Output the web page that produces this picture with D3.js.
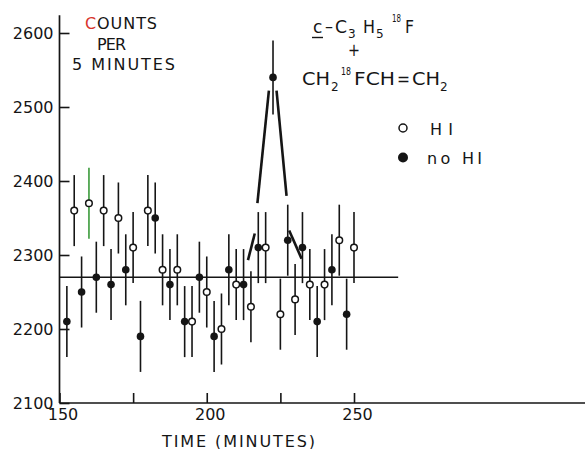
<!DOCTYPE html>
<html><head><meta charset="utf-8">
<script src="https://cdn.jsdelivr.net/npm/d3@7"></script>
<style>
body{margin:0;background:#fff}
text{font-family:"DejaVu Sans",sans-serif;fill:#151515}
</style>
</head><body>
<svg id="chart" width="585" height="449"></svg>
<script>
// ---- data ----
const openTimes   = [155,160,165,170,175,180,185,190,195,200,205,210,215,220,225,230,235,240,245,250];
const openCounts  = [2360,2370,2360,2350,2310,2360,2280,2280,2210,2250,2200,2260,2230,2310,2220,2240,2260,2260,2320,2310];
const filledTimes = [152.5,157.5,162.5,167.5,172.5,177.5,182.5,187.5,192.5,197.5,202.5,207.5,212.5,217.5,222.5,227.5,232.5,237.5,242.5,247.5];
const filledCounts= [2210,2250,2270,2260,2280,2190,2350,2260,2210,2270,2190,2280,2260,2310,2540,2320,2310,2210,2280,2220];
const openErr   = [48,48,48,48,48,48,48,48,48,48,48,48,48,48,48,48,48,48,48,48];
const filledErr = [48,48,48,48,48,48,48,48,48,48,48,48,48,48,50,48,48,48,48,48];
const baselineCount = 2270;
const baselineRange = [150,265];
// hand-drawn peak sketch, broken into segments (time, counts)
const peakSegTimes  = [[214.0,216.3],[217.2,221.1],[223.7,227.1],[228.0,232.2]];
const peakSegCounts = [[2293,2329],[2370,2522],[2522,2380],[2333,2295]];
const xTickValues = [150,175,200,225,250];
const xTickLabels = ["150","","200","","250"];
const yTickValues = [2100,2200,2300,2400,2500,2600];
const yTickLabels = ["2100","2200","2300","2400","2500","2600"];
const legendLabels = ["HI","no HI"];
const xTitle = "TIME (MINUTES)";
const yTitleLines = ["COUNTS","PER","5 MINUTES"];

// ---- scales ----
const x = d3.scaleLinear().domain([150,250]).range([59.5,354]);
const y = d3.scaleLinear().domain([2100,2600]).range([403,33]);
const svg = d3.select("#chart");
const ink = "#151515";

// axes
const yAxis = d3.axisLeft(y).tickValues(yTickValues).tickFormat((d,i)=>yTickLabels[i])
  .tickSizeInner(-10).tickSizeOuter(0).tickPadding(6);
const gy = svg.append("g").attr("transform",`translate(${x(150)},0)`).call(yAxis);
gy.select(".domain").remove();
gy.selectAll("line").attr("stroke",ink).attr("stroke-width",1.6);
gy.selectAll("text").attr("font-size",16).attr("fill",ink).attr("dy","0.36em");

const xAxis = d3.axisBottom(x).tickValues(xTickValues).tickFormat((d,i)=>xTickLabels[i])
  .tickSizeInner(-10).tickSizeOuter(0).tickPadding(6);
const gx = svg.append("g").attr("transform",`translate(0,${y(2100)})`).call(xAxis);
gx.select(".domain").remove();
gx.selectAll("line").attr("stroke",ink).attr("stroke-width",1.6);
gx.selectAll("text").attr("font-size",16).attr("fill",ink).attr("dx","3");

// axis lines
svg.append("line").attr("x1",x(150)).attr("x2",x(150)).attr("y1",y(2100)).attr("y2",y(2624))
  .attr("stroke",ink).attr("stroke-width",1.7);
svg.append("line").attr("x1",x(150)).attr("x2",585).attr("y1",y(2100)).attr("y2",y(2100))
  .attr("stroke",ink).attr("stroke-width",1.7);

// baseline
svg.append("line").attr("x1",x(baselineRange[0])).attr("x2",x(baselineRange[1]))
  .attr("y1",y(baselineCount)).attr("y2",y(baselineCount))
  .attr("stroke",ink).attr("stroke-width",1.4);

// peak sketch
peakSegTimes.forEach((t,i)=>{
  svg.append("line").attr("x1",x(t[0])).attr("y1",y(peakSegCounts[i][0]))
    .attr("x2",x(t[1])).attr("y2",y(peakSegCounts[i][1]))
    .attr("stroke",ink).attr("stroke-width",2.6);
});

// error bars
const openData = openTimes.map((t,i)=>({t,v:openCounts[i],e:openErr[i]}));
const filledData = filledTimes.map((t,i)=>({t,v:filledCounts[i],e:filledErr[i]}));
const greenBarTime = 160;
svg.append("g").selectAll("line").data(openData.concat(filledData)).join("line")
  .attr("x1",d=>x(d.t)).attr("x2",d=>x(d.t))
  .attr("y1",d=>y(d.v+d.e)).attr("y2",d=>y(d.v-d.e))
  .attr("stroke",d=>d.t===greenBarTime?"#3a9a3a":ink).attr("stroke-width",1.6);

// markers
svg.append("g").selectAll("circle").data(filledData).join("circle")
  .attr("cx",d=>x(d.t)).attr("cy",d=>y(d.v)).attr("r",3.8).attr("fill",ink);
svg.append("g").selectAll("circle").data(openData).join("circle")
  .attr("cx",d=>x(d.t)).attr("cy",d=>y(d.v)).attr("r",3.3)
  .attr("fill","#fff").attr("stroke",ink).attr("stroke-width",1.5);

// y title (top-left block)
const tl = [[85,29,72],[97,49.5,29],[72,70,103]];
yTitleLines.forEach((s,i)=>{
  const t = svg.append("text").attr("x",tl[i][0]).attr("y",tl[i][1]).attr("font-size",16)
    .attr("textLength",tl[i][2]).attr("lengthAdjust","spacing");
  if(i===0){ t.append("tspan").attr("fill","#d8342c").text(s[0]); t.append("tspan").text(s.slice(1)); }
  else t.text(s);
});

// x title
svg.append("text").attr("x",162).attr("y",446.5).attr("font-size",16)
  .attr("textLength",153).attr("lengthAdjust","spacing").text(xTitle);

// chemistry label
function piece(str,px,py,fs,len,fill){
  const t = svg.append("text").attr("x",px).attr("y",py).attr("font-size",fs).text(str);
  if(len) t.attr("textLength",len).attr("lengthAdjust","spacingAndGlyphs");
  if(fill) t.attr("fill",fill);
  return t;
}
piece("c",313,33,17);
svg.append("line").attr("x1",312).attr("x2",323).attr("y1",37.5).attr("y2",37.5).attr("stroke",ink).attr("stroke-width",1.4);
piece("–",325,32,17,8);
piece("C",335,33,17,12);
piece("3",348,37.5,12);
piece("H",363,33,17,12);
piece("5",376,37.5,12);
piece("18",392,22,11,9,"#b0309a");
piece("F",405,33,17,9);
piece("+",348,55.5,17,12);
piece("CH",302,85,17,28);
piece("2",331,91,12);
piece("18",341,75,11,10);
piece("FCH",354,85,17,41);
piece("=",397,85,17,13);
piece("CH",412,85,17,28);
piece("2",440,91,12);

// legend
svg.append("circle").attr("cx",403).attr("cy",128).attr("r",4).attr("fill","#fff").attr("stroke",ink).attr("stroke-width",1.5);
svg.append("circle").attr("cx",403).attr("cy",157.5).attr("r",5).attr("fill",ink);
svg.append("text").attr("x",430).attr("y",135).attr("font-size",16).attr("textLength",23).attr("lengthAdjust","spacing").text(legendLabels[0]);
svg.append("text").attr("x",427).attr("y",164).attr("font-size",16).attr("textLength",55).attr("lengthAdjust","spacing").text(legendLabels[1]);
</script>
</body></html>
